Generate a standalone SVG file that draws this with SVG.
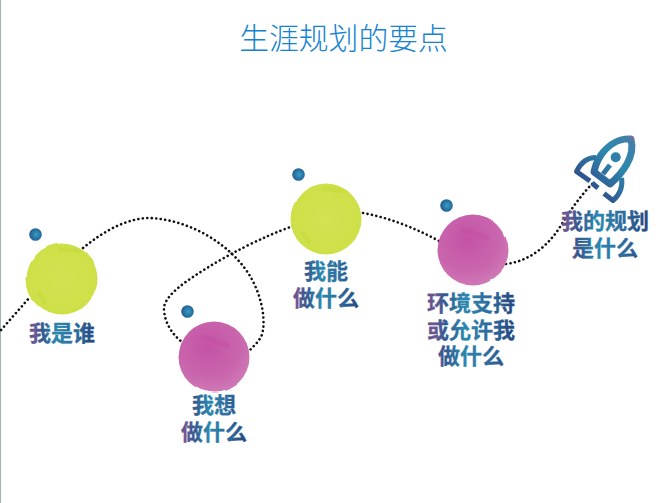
<svg xmlns="http://www.w3.org/2000/svg" width="671" height="503" viewBox="0 0 671 503">
  <defs>
    <linearGradient id="ink" x1="0" y1="0" x2="1" y2="0">
      <stop offset="0" stop-color="#5a4f8e"/>
      <stop offset="0.08" stop-color="#6b5a94"/>
      <stop offset="0.2" stop-color="#34588f"/>
      <stop offset="0.42" stop-color="#2a87ae"/>
      <stop offset="0.7" stop-color="#2f6c9e"/>
      <stop offset="1" stop-color="#25467f"/>
    </linearGradient>
    <linearGradient id="rocketInk" gradientUnits="userSpaceOnUse" x1="636" y1="135" x2="582" y2="192">
      <stop offset="0" stop-color="#8a6aa6"/>
      <stop offset="0.12" stop-color="#3f80a8"/>
      <stop offset="0.42" stop-color="#2d88ad"/>
      <stop offset="0.75" stop-color="#2f6398"/>
      <stop offset="1" stop-color="#2a447f"/>
    </linearGradient>
    <radialGradient id="bead" cx="0.55" cy="0.5" r="0.55">
      <stop offset="0" stop-color="#3a9cc0"/>
      <stop offset="0.7" stop-color="#256f9f"/>
      <stop offset="1" stop-color="#2a5a8c"/>
    </radialGradient>
    <radialGradient id="lime" cx="0.5" cy="0.5" r="0.52">
      <stop offset="0" stop-color="#d3e252"/>
      <stop offset="0.82" stop-color="#cfe04a"/>
      <stop offset="1" stop-color="#cde044"/>
    </radialGradient>
    <radialGradient id="magenta" cx="0.42" cy="0.35" r="0.7">
      <stop offset="0" stop-color="#c552a5"/>
      <stop offset="0.65" stop-color="#c966ad"/>
      <stop offset="1" stop-color="#d07cb8"/>
    </radialGradient>
    <!-- uneven watercolour edge -->
    <filter id="wash" x="-10%" y="-10%" width="120%" height="120%">
      <feTurbulence type="fractalNoise" baseFrequency="0.025" numOctaves="2" seed="4" result="n"/>
      <feDisplacementMap in="SourceGraphic" in2="n" scale="2.500" xChannelSelector="R" yChannelSelector="G"/>
      <feGaussianBlur stdDeviation="0.4"/>
    </filter>
  </defs>
  <style>
    .label { font-family: "Noto Sans CJK SC", sans-serif; font-size: 22px; font-weight: 700; fill: url(#ink); stroke: url(#ink); stroke-width: 0.3; text-anchor: middle; }
    .title { font-family: "Noto Sans CJK SC", sans-serif; font-size: 29.800px; font-weight: 200; fill: #1582d2; text-anchor: middle; }
    .path { fill: none; stroke: #111; stroke-width: 2.6; stroke-dasharray: 0.1 4.4; stroke-linecap: round; }
    .rk { fill: none; stroke: url(#rocketInk); stroke-linejoin: round; }
    .blot { fill: none; stroke-linecap: round; }
  </style>

  <rect x="0" y="0" width="1" height="503" fill="#a6afbd"/>

  <text class="title" x="343.500" y="49">生涯规划的要点</text>

  <g id="connectors">
    <path class="path" d="M1,330 L30,297"/>
    <path class="path" d="M83,248 C105,230 128,218 150,218 C192,220 232,246 250,276 C262,296 267,323 261,337 C258,342 254,346 250,350"/>
    <path class="path" d="M293,226 C265,236 225,255 190,279 C172,291 163,302 164,310 C165,324 173,335 182,342"/>
    <path class="path" d="M363,213 C390,218 415,228 439,241"/>
    <path class="path" d="M506,264 C530,261 550,245 563,222 C572,208 582,194 593,183"/>
  </g>

  <g id="node-who">
    <g filter="url(#wash)">
      <circle cx="62" cy="279" r="35.500" fill="url(#lime)"/>
      <path class="blot" d="M39,293 L45,302 M60,249 L78,251" stroke="#c3d93a" stroke-width="4" opacity="0.5"/>
    </g>
    <circle cx="35.500" cy="234.500" r="6.300" fill="url(#bead)"/>
    <text class="label" x="62" y="341">我是谁</text>
  </g>
  <g id="node-want">
    <g filter="url(#wash)">
      <circle cx="214" cy="357" r="35.500" fill="url(#magenta)"/>
      <path class="blot" d="M205,337 L228,345" stroke="#c24a9f" stroke-width="5" opacity="0.35"/>
    </g>
    <circle cx="187.500" cy="311.500" r="6.300" fill="url(#bead)"/>
    <text class="label" x="214" y="413">我想<tspan x="214" y="440">做什么</tspan></text>
  </g>
  <g id="node-can">
    <g filter="url(#wash)">
      <circle cx="326" cy="219" r="35.500" fill="url(#lime)"/>
      <path class="blot" d="M303,233 L309,242 M324,189 L342,191" stroke="#c3d93a" stroke-width="4" opacity="0.5"/>
    </g>
    <circle cx="298.500" cy="174.500" r="6.300" fill="url(#bead)"/>
    <text class="label" x="326" y="279">我能<tspan x="326" y="306">做什么</tspan></text>
  </g>
  <g id="node-env">
    <g filter="url(#wash)">
      <circle cx="473" cy="250" r="35.500" fill="url(#magenta)"/>
      <path class="blot" d="M464,230 L487,238" stroke="#c24a9f" stroke-width="5" opacity="0.35"/>
    </g>
    <circle cx="446.500" cy="205.500" r="6.300" fill="url(#bead)"/>
    <text class="label" x="471" y="311">环境支持<tspan x="471" y="338">或允许我</tspan><tspan x="471" y="364">做什么</tspan></text>
  </g>
  <g id="node-plan">
    <path class="rk" stroke-width="7" d="M631,139 C620,138 609,144 601,155 C597,161 595,167 594,172 L610,184 C617,178 623,171 627,164 C632,155 633,147 631,139 Z"/>
    <path class="rk" stroke-width="5" d="M596,157.500 C588,157.500 581,162 576.500,171.500 L590,181"/>
    <path class="rk" stroke-width="5" d="M621.500,178 C623,186 620,195 613,200.500 L604,193.500"/>
    <path class="rk" stroke-width="5" d="M592,183 L598,188"/>
    <circle cx="615.700" cy="157.300" r="5" fill="#2f7fa8"/>
    <path class="rk" stroke-width="5" d="M610,165 L603,174"/>
    <text class="label" x="605" y="229">我的规划<tspan x="605" y="256">是什么</tspan></text>
  </g>
</svg>
